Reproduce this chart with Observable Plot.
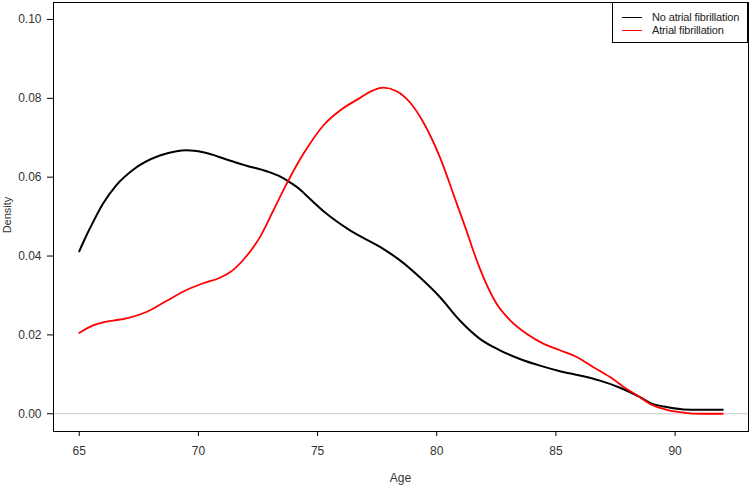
<!DOCTYPE html>
<html>
<head>
<meta charset="utf-8">
<script src="https://cdn.jsdelivr.net/npm/d3@7"></script>
<script src="https://cdn.jsdelivr.net/npm/@observablehq/plot@0.6"></script>
<style>
  html, body { margin: 0; padding: 0; background: #fff; }
  #wrap { position: relative; width: 750px; height: 486px; font-family: "Liberation Sans", Arial, sans-serif; color: #333; }
  #wrap svg { position: absolute; left: 0; top: 0; }
  .axlab { position: absolute; font-size: 12px; line-height: 12px; white-space: nowrap; }
  #legend { position: absolute; left: 612px; top: 2px; width: 134px; height: 39px; border: 1px solid #000; background: #fff; box-sizing: content-box; }
  .item { position: absolute; left: 0; height: 12px; font-size: 11px; line-height: 12px; white-space: nowrap; color: #222; letter-spacing: -0.15px; }
  .item .sw { position: absolute; left: 9px; top: 6px; width: 20px; height: 0; border-top: 1px solid; }
  .item .tx { position: absolute; left: 39px; top: 0; }
</style>
</head>
<body>
<div id="wrap"></div>
<script>
// Series names
const seriesNames = ["No atrial fibrillation", "Atrial fibrillation"];
const seriesColors = ["#000000", "#ff0000"];

// No atrial fibrillation: age and density
const ageNoAF = [65.0, 65.3, 65.58, 66.0, 66.56, 67.26, 68.38, 69.08, 69.5, 70.2, 71.18, 71.74, 72.02, 72.86, 73.42, 73.84, 74.26, 74.54, 75.38, 76.36, 77.62, 78.46, 79.29, 80.13, 80.96, 81.81, 82.65, 83.49, 84.33, 85.17, 86.01, 86.85, 87.69, 88.53, 88.97, 89.65, 90.35, 91.0, 92.0];
const densNoAF = [0.0412, 0.0452, 0.0486, 0.0533, 0.0580, 0.0619, 0.0655, 0.0666, 0.0668, 0.0663, 0.0645, 0.0634, 0.0629, 0.0615, 0.0602, 0.0587, 0.0569, 0.0553, 0.0507, 0.0465, 0.0423, 0.0389, 0.0346, 0.0296, 0.0237, 0.0190, 0.0161, 0.0139, 0.0122, 0.0108, 0.0097, 0.0084, 0.0066, 0.0042, 0.0027, 0.0017, 0.0011, 0.0010, 0.0010];

// Atrial fibrillation: age and density
const ageAF = [65.0, 65.58, 66.0, 66.5, 66.98, 67.82, 68.66, 69.5, 70.2, 70.9, 71.46, 72.02, 72.58, 73.14, 73.7, 74.26, 74.54, 75.24, 75.94, 76.64, 77.33, 77.75, 78.32, 78.87, 79.43, 80.13, 80.84, 81.26, 81.53, 81.81, 82.51, 83.08, 83.77, 84.47, 85.17, 85.87, 86.57, 87.27, 87.97, 88.53, 88.97, 89.65, 90.35, 91.05, 92.0];
const densAF = [0.0205, 0.0224, 0.0232, 0.0237, 0.0242, 0.0258, 0.0286, 0.0314, 0.0331, 0.0345, 0.0365, 0.0400, 0.0448, 0.0515, 0.0583, 0.0645, 0.0672, 0.0731, 0.0769, 0.0796, 0.0820, 0.0827, 0.0818, 0.0790, 0.0740, 0.0651, 0.0533, 0.0462, 0.0414, 0.0368, 0.0279, 0.0237, 0.0203, 0.0178, 0.0161, 0.0144, 0.0118, 0.0093, 0.0063, 0.0042, 0.0024, 0.0010, 0.0003, 0.0000, 0.0000];

// Tick values
const xTicks = [65, 70, 75, 80, 85, 90];
const yTicks = [0.00, 0.02, 0.04, 0.06, 0.08, 0.10];

const xLabel = "Age";
const yLabel = "Density";

const noAF = ageNoAF.map((a, i) => ({age: a, d: densNoAF[i]}));
const af = ageAF.map((a, i) => ({age: a, d: densAF[i]}));

const plot = Plot.plot({
  width: 750,
  height: 486,
  marginLeft: 53,
  marginRight: 2,
  marginTop: 2,
  marginBottom: 55,
  style: {fontFamily: "'Liberation Sans', Arial, sans-serif", fontSize: "12px", background: "white", color: "#333"},
  x: {domain: [63.92, 93.08]},
  y: {domain: [-0.0045, 0.1043]},
  marks: [
    Plot.ruleY([0], {stroke: "#c8c8c8", strokeWidth: 1}),
    Plot.line(noAF, {x: "age", y: "d", stroke: seriesColors[0], strokeWidth: 2, curve: "monotone-x"}),
    Plot.line(af, {x: "age", y: "d", stroke: seriesColors[1], strokeWidth: 1.8, curve: "monotone-x"}),
    Plot.frame({stroke: "#000"}),
    Plot.axisX({ticks: xTicks, tickSize: 5, tickPadding: 9.5, tickFormat: d => String(d), label: null, stroke: "#000", fill: "#333", fontSize: 12}),
    Plot.axisY({ticks: yTicks, tickSize: 6, tickPadding: 6, tickFormat: d => d.toFixed(2), label: null, stroke: "#000", fill: "#333", fontSize: 12})
  ]
});

const wrap = document.getElementById("wrap");
wrap.appendChild(plot);

const ax = document.createElement("div");
ax.className = "axlab";
ax.textContent = xLabel;
ax.style.left = "53px";
ax.style.width = "695px";
ax.style.textAlign = "center";
ax.style.top = "472px";
wrap.appendChild(ax);

const ay = document.createElement("div");
ay.className = "axlab";
ay.textContent = yLabel;
ay.style.fontSize = "11px";
ay.style.width = "80px";
ay.style.textAlign = "center";
ay.style.left = (6.5 - 40) + "px";
ay.style.top = (215 - 6) + "px";
ay.style.transform = "rotate(-90deg)";
wrap.appendChild(ay);

const legend = document.createElement("div");
legend.id = "legend";
seriesNames.forEach((name, i) => {
  const it = document.createElement("div");
  it.className = "item";
  it.style.top = (i === 0 ? 7.5 : 21) + "px";
  const sw = document.createElement("span");
  sw.className = "sw";
  sw.style.borderColor = seriesColors[i];
  const tx = document.createElement("span");
  tx.className = "tx";
  tx.textContent = name;
  it.appendChild(sw);
  it.appendChild(tx);
  legend.appendChild(it);
});
wrap.appendChild(legend);
</script>
</body>
</html>
